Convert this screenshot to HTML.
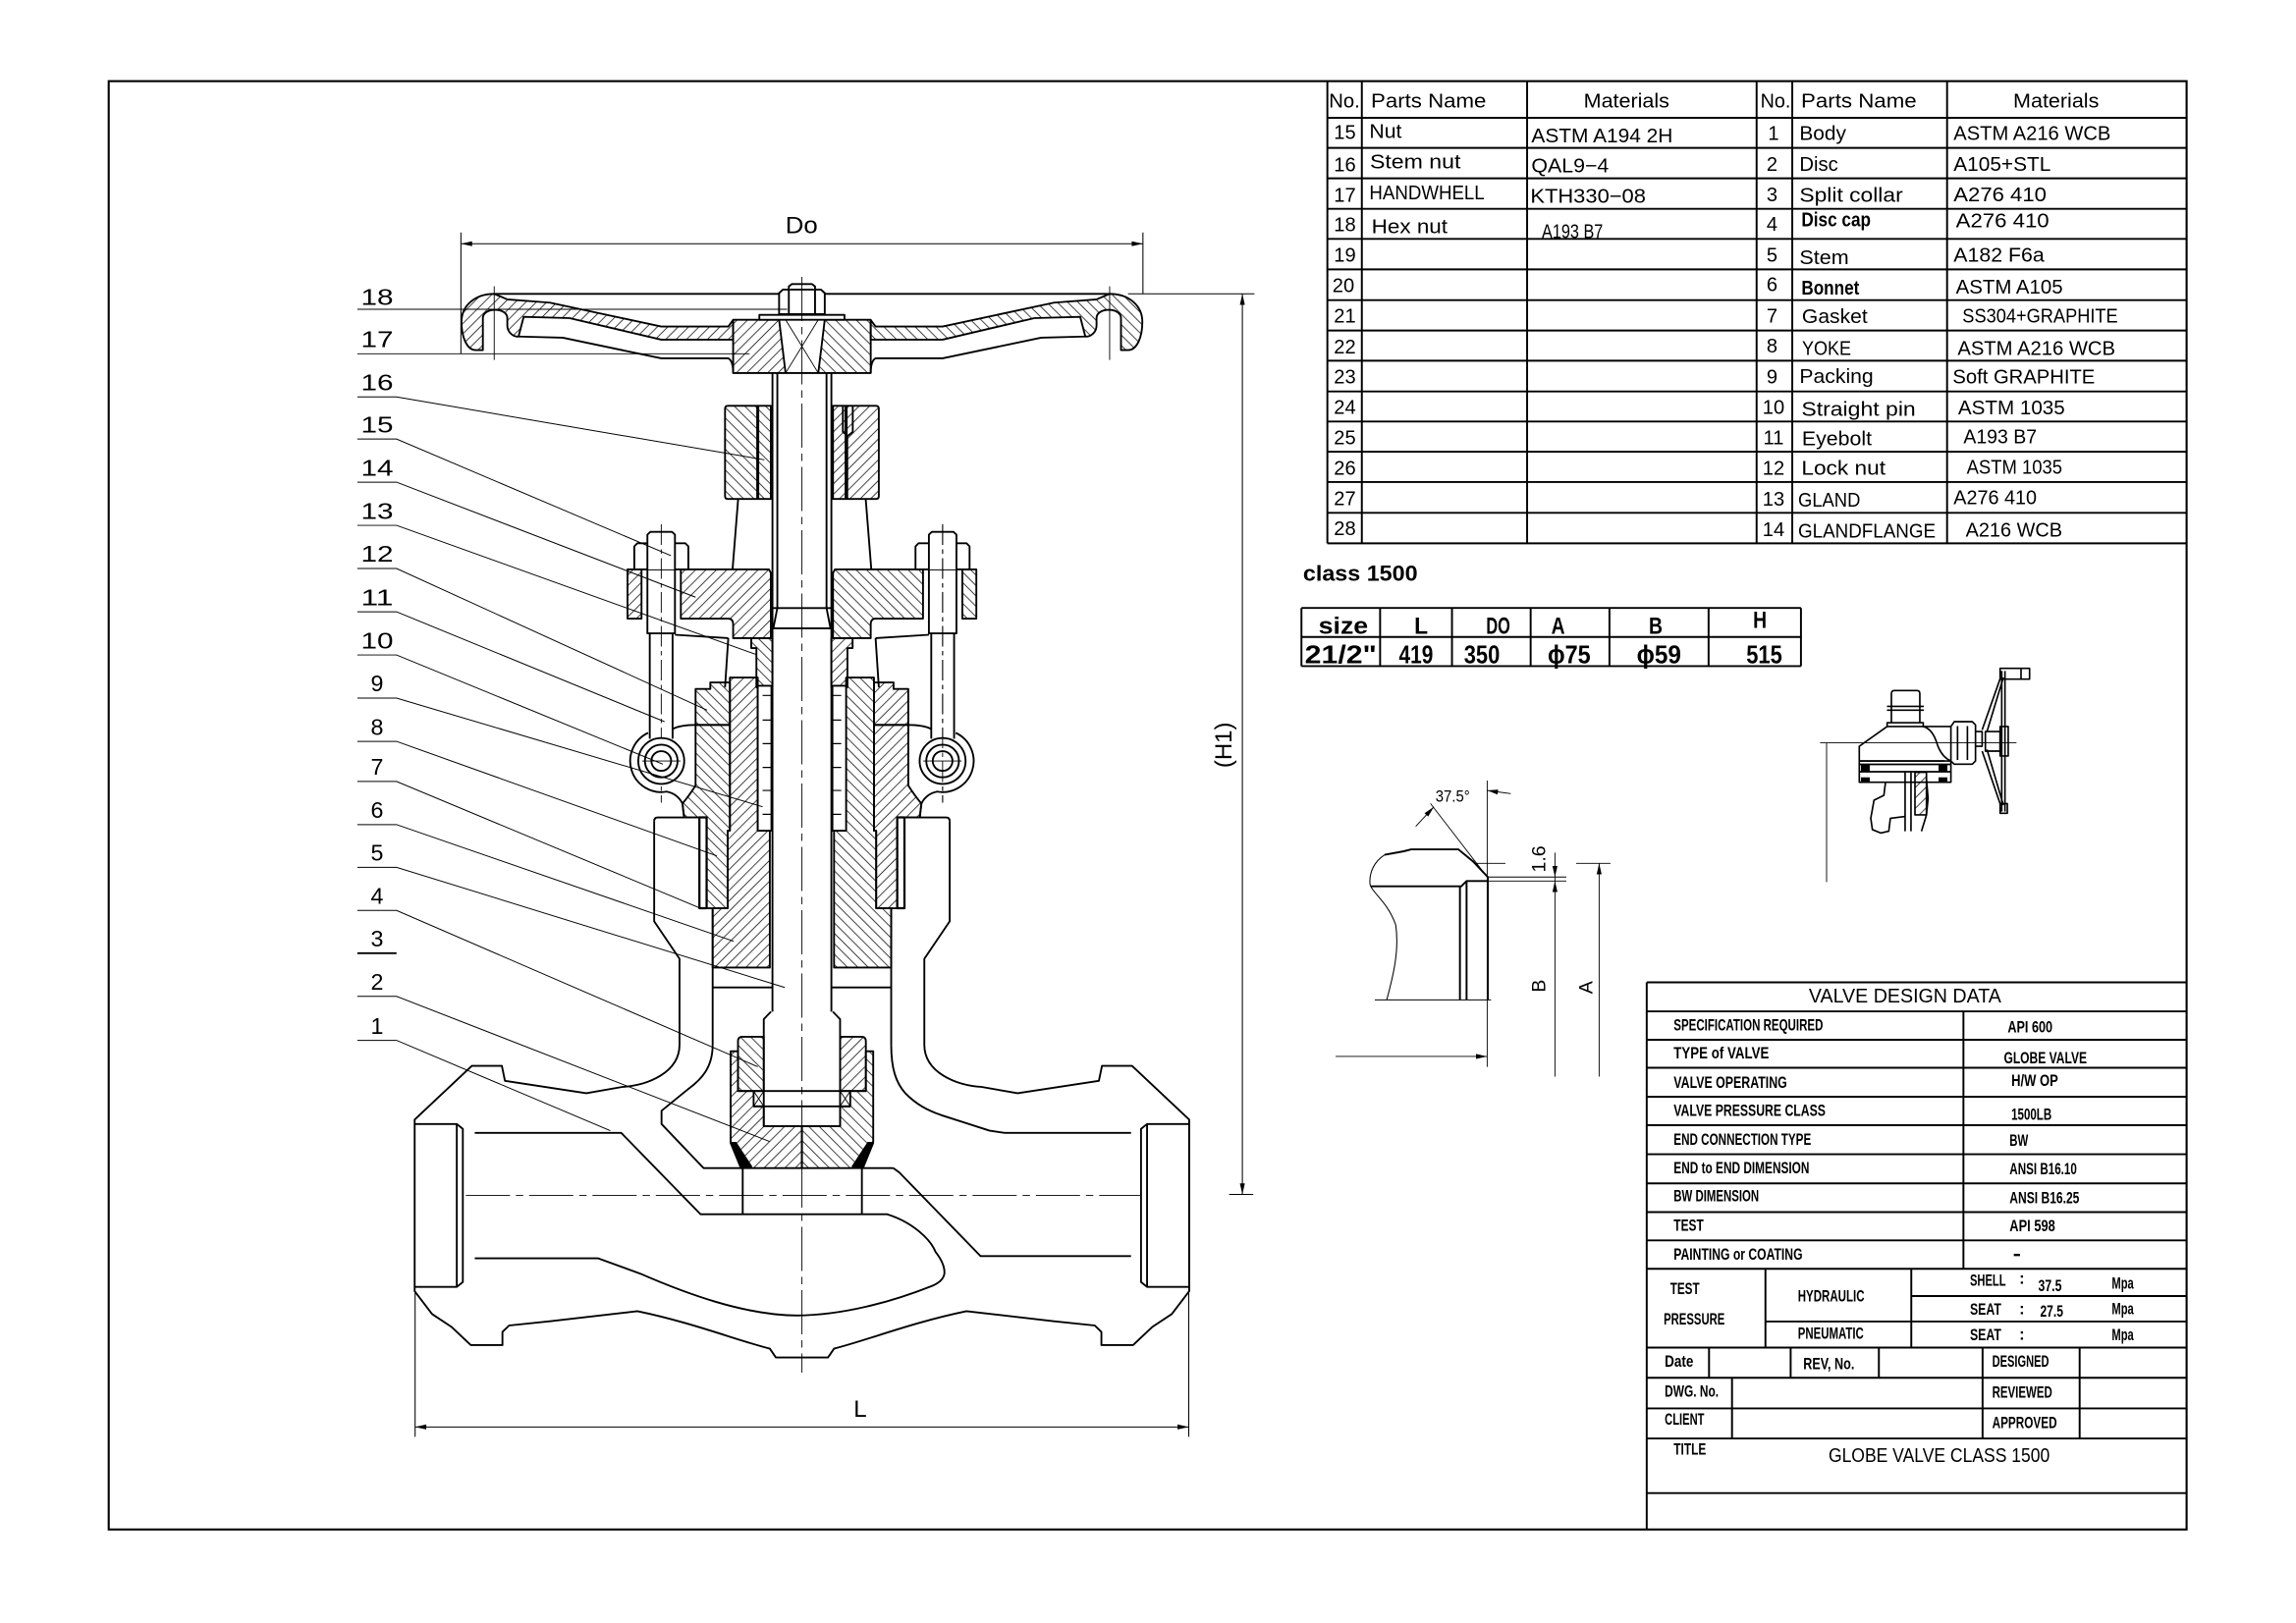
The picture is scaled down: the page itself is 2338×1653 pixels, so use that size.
<!DOCTYPE html>
<html><head><meta charset="utf-8">
<style>
html,body{margin:0;padding:0;background:#fff;width:2338px;height:1653px;overflow:hidden}
svg{display:block}
text{font-family:"Liberation Sans",Arial,sans-serif;fill:#000}
.pt{font-size:13.4px}
.tb{font-size:11px;font-weight:bold}
.ct{font-size:16px;font-weight:bold}
.ld{font-size:15.5px}
</style></head><body>
<svg xmlns="http://www.w3.org/2000/svg" width="2338" height="1653" viewBox="0 0 1558.667 1102">
<defs>
<pattern id="hA" width="5" height="5" patternUnits="userSpaceOnUse" patternTransform="rotate(45)"><line x1="2.5" y1="0" x2="2.5" y2="5" stroke="#000" stroke-width="0.5"/></pattern>
<pattern id="hB" width="5" height="5" patternUnits="userSpaceOnUse" patternTransform="rotate(-45)"><line x1="2.5" y1="0" x2="2.5" y2="5" stroke="#000" stroke-width="0.5"/></pattern>
</defs>
<rect x="0" y="0" width="1558.667" height="1102" fill="#fff"/>

<!-- FRAME -->
<rect x="73.8" y="55.1" width="1410.6" height="983.4" fill="none" stroke="#000" stroke-width="1.4"/>

<!-- ============ VALVE HALF (mirrored) ============ -->
<g id="half" fill="none" stroke="#000" stroke-width="1.25" stroke-linejoin="round">
 <!-- handwheel -->
 <path fill="url(#hA)" d="M335.5,199.5 C322,199.5 313.3,208 313.3,218.5 C313.3,229 317,237.7 323,237.7 L327.8,237.7 L327.8,216 C327.8,208.5 344.4,208.5 344.4,216 L344.4,221 C344.4,226 349,229 352,228.5 L355.5,215.1 L386.6,216 L448.9,230.6 L497.7,230.6 L497.7,217.3 L494.4,221.7 L448.9,221.7 L373.3,205.5 L344.4,203.3 Z"/>
 <path d="M352,228.5 L382,229.3 L448.9,243.3 L494.4,243.3 Q497.7,245 497.7,253.3"/>
 <path d="M335.5,199.5 L544.4,199.5"/>
 <path stroke-width="0.6" d="M335.5,194.4 L335.5,244.4"/>
 <path fill="url(#hA)" d="M497.7,217.1 L528.9,217.1 L533.3,253.3 L497.7,253.3 Z"/>
 <path fill="#fff" d="M544.4,213.8 L515.5,213.8 L515.5,217.1 L544.4,217.1"/>
 <path fill="#fff" d="M544.4,196.6 L531.5,196.6 L528.9,199 L528.9,213.3 L544.4,213.3"/>
 <path fill="#fff" d="M544.4,192.9 L537.5,192.9 L535.5,194.5 L535.5,196.6"/>
 <path d="M535.5,196.6 L535.5,213.3"/>
 <!-- stem nut -->
 <path fill="url(#hB)" d="M492.2,277.5 Q492.2,275.5 494.2,275.5 L523.3,275.5 L523.3,338.8 L494.2,338.8 Q492.2,338.8 492.2,336.8 Z"/>
 <path stroke-width="2" d="M514.4,275.5 L514.4,338.8"/>
 <path d="M501.1,338.8 L497.3,386.6"/>
 <!-- flange -->
 <path fill="url(#hA)" d="M426,386.6 L435.5,386.6 L435.5,420 L426,420 Z"/>
 <path fill="url(#hA)" d="M462.2,386.6 L522,386.6 L523.3,389 L523.3,433.3 L497.7,433.3 L497.7,424 Q497.7,420 494.4,420 L462.2,420 Z"/>
 <path d="M458.2,431 L494.4,433.3"/>
 <!-- stud + nut -->
 <path fill="#fff" d="M430.6,386.6 L430.6,371 L432.6,368.9 L465.3,368.9 L467.3,371 L467.3,386.6 Z"/>
 <path fill="#fff" d="M439.5,386.6 L439.5,363 L441.5,361.1 L456.2,361.1 L458.2,363 L458.2,386.6"/>
 <path d="M439.5,386.6 L439.5,430 L458.2,430 L458.2,386.6 M441.1,430 L441.1,501.6 M456.6,430 L456.6,501.6"/>
 <path stroke-width="0.6" stroke-dasharray="14 3 3 3" d="M448.9,356 L448.9,545"/>
 <!-- gland -->
 <path fill="url(#hB)" d="M510,433.3 L524.4,433.3 L524.4,466.7 L513.5,466.7 L513.5,440 L510,440 Z"/>
 <path d="M494.4,433.3 L492.2,466.7"/>
 <!-- lock nut -->
 <path fill="url(#hB)" d="M472.2,467.8 L482.2,467.8 L482.2,463.4 L495.5,463.4 L495.5,492.2 L472.2,492.2 Z"/>
 <!-- bonnet inner -->
 <path fill="url(#hA)" d="M495.5,460 L514.4,460 L514.4,564 L522.6,564 L522.6,657 L483.8,657 L483.8,616.7 L494,616.7 L494,564 L495.5,564 Z"/>
 <!-- bonnet outer -->
 <path fill="url(#hB)" d="M472.2,492.2 L495.5,492.2 L495.5,564 L494,564 L494,616.7 L479.7,616.7 L479.7,555 L464.4,555 L463.3,545.6 Q468,540 472.2,533.3 Z"/>
 <!-- packing -->
 <path fill="#fff" d="M514.4,465.6 L523.7,465.6 L523.7,564 L514.4,564 Z"/>
 <path stroke-width="0.8" d="M517.7,472.2 L523.7,472.2 M517.7,488.9 L523.7,488.9 M517.7,504.9 L523.7,504.9 M517.7,521.1 L523.7,521.1 M517.7,536.7 L523.7,536.7 M517.7,552.9 L523.7,552.9"/>
 <!-- gasket -->
 <path fill="#fff" stroke-width="1.5" d="M474.8,555 L479.7,555 L479.7,616.7 L474.8,616.7 Z"/>
 <!-- eye -->
 <path d="M440,497.6 A21.1,21.1 0 0 0 452.6,537.5 Q460,539 463.3,545.6 L464.4,555"/>
 <path d="M456.6,495 Q462,492.2 472.2,492.2"/>
 <circle cx="448.9" cy="516.7" r="15.6" fill="#fff"/>
 <circle cx="448.9" cy="516.7" r="11.1"/>
 <circle cx="448.9" cy="516.7" r="6.7"/>
 <path stroke-width="0.6" d="M436,516.7 L462,516.7"/>
 <!-- body outer -->
 <path d="M444.1,557.5 Q444.1,555 446.6,555 L474.8,555"/>
 <path d="M444.1,557.5 L444.1,625.6 L461.3,651 L461.3,709.4 C461.3,728 440,737 422.5,738 L398,742.3 L342.8,733.9 L340.7,723.7 L320.3,723.7 L281.5,760.2 L281.5,876.7 L293.3,892.2 L306.7,901.1 L319.6,913.3 L341.1,913.3 L341.1,904.4 L345.6,900 L373.3,897.1 L432.7,890.3 C470,898 500,910 522.6,915.7 L526.7,921.7 L544.4,921.7"/>
 <path d="M281.5,763.2 L310.1,763.2 L314.2,766.5 L314.2,870.5 L310.1,873.8 L281.5,873.8 M310.1,763.2 L310.1,873.8"/>
 <path d="M483.8,616.7 L483.8,709.4"/>
 <path d="M483.8,670.5 L524.4,670.5"/>
 <!-- disc -->
 <path d="M523.4,686.9 L518.5,692 L518.5,764.7 L544.4,764.7"/>
 <path fill="url(#hA)" d="M496,713.8 L501,713.8 L501,740.8 L511.6,740.8 L511.6,751.2 L518.5,751.2 L518.5,764.7 L544.4,764.7 L544.4,793.1 L508.3,793.1 L496,775.1 Z"/>
 <path fill="url(#hB)" d="M501,740.8 L501,707 Q501,704 504,704 L518.5,704 L518.5,740.8 Z"/>
 <path d="M511.6,740.8 L544.4,740.8 M511.6,751.2 L544.4,751.2"/>
 <path stroke-width="0.6" d="M511.6,740.8 L518.5,751.2 M518.5,740.8 L511.6,751.2"/>
 <path fill="#000" d="M496,776 L499.5,776 L510,792 L508.3,793.1 L503,793.1 Z"/>
</g>
<use href="#half" transform="matrix(-1 0 0 1 1088.8 0)"/>

<!-- ============ VALVE CENTER / ASYMMETRIC ============ -->
<g fill="none" stroke="#000" stroke-width="1.25" stroke-linejoin="round">
 <path d="M524.4,253.3 L524.4,686.9 M564.4,253.3 L564.4,686.9"/>
 <path d="M527.7,253.3 L527.7,412.9 M561.1,253.3 L561.1,412.9 M524.4,412.9 L564.4,412.9 M524.4,426.6 L564.4,426.6 M527.7,412.9 L525,426.6 M561.1,412.9 L563.8,426.6"/>
 <path d="M533.3,253.3 L555.5,253.3"/>
 <path stroke-width="0.6" d="M533.3,217.1 L555.5,253.3 M555.5,217.1 L533.3,253.3"/>
 <path d="M572.2,275.5 L572.2,293.3 L575.5,296 L578.9,293.3 L578.9,275.5"/>
 <path stroke-width="0.6" d="M575.5,296 L575.5,338.8"/>
 <path d="M322.3,769.2 L421.7,769.2 L475.6,824.5 L602.3,824.5 C620,830 632,842 635,849.9 C639,855 641.5,860 641.1,864.8 C640.5,869 636,872 630.9,873.8 C605,884 572,893 541,893.2 C505,893 465,878 434.7,864.8 L406.1,854.4 L322.3,854.4"/>
 <path d="M606.4,793.1 L610.5,796.1 L665.7,852.9 L767.8,852.9"/>
 <path d="M682,769.2 L767.8,769.2"/>
 <path d="M605,709.4 C605,725 608,735 614.6,742.3 C622,750 630,754 639.1,757.2 L671.8,767.7 L682,769.2"/>
 <path d="M483.8,709.4 C483.8,725 476,733 467.4,739.3 L449.1,754.2 L449.1,763.2 L477.6,793.1 L504.2,793.1"/>
 <path d="M504.2,793.1 L504.2,824.5 M585.1,793.1 L585.1,824.5 M585.1,793.1 L606.4,793.1"/>
 <!-- center lines -->
 <path stroke-width="0.6" stroke-dasharray="30 4 5 4" d="M544.4,188 L544.4,932"/>
 <path stroke-width="0.6" stroke-dasharray="30 4 5 4" d="M316.2,811.6 L773.9,811.6"/>
 <path stroke-width="0.6" stroke-dasharray="14 3 3 3" d="M639.9,356 L639.9,545"/>
</g>

<!-- ============ DIMENSIONS ============ -->
<g fill="none" stroke="#000" stroke-width="0.7">
 <path d="M312.9,165.5 L775.9,165.5 M312.9,157.8 L312.9,240 M775.9,157.8 L775.9,199.5"/>
 <path d="M843.4,199.5 L843.4,811 M765.8,199.5 L851.6,199.5 M834.4,811 L850.8,811"/>
 <path d="M281.8,968.9 L807,968.9 M281.8,878 L281.8,975.6 M807,878 L807,975.6"/>
</g>
<g fill="#000">
 <polygon points="312.9,165.5 320.5,163.8 320.5,167.2"/>
 <polygon points="775.9,165.5 768.3,163.8 768.3,167.2"/>
 <polygon points="843.4,199.5 841.7,207 845.1,207"/>
 <polygon points="843.4,811 841.7,803.5 845.1,803.5"/>
 <polygon points="281.8,968.9 289.4,967.2 289.4,970.6"/>
 <polygon points="807,968.9 799.4,967.2 799.4,970.6"/>
</g>
<text x="544.2" y="158.2" font-size="16" text-anchor="middle" textLength="22" lengthAdjust="spacingAndGlyphs">Do</text>
<text x="584" y="962" font-size="16" text-anchor="middle">L</text>
<text transform="translate(836,505.9) rotate(-90)" font-size="16" text-anchor="middle">(H1)</text>

<!-- ============ LEADERS ============ -->
<g fill="none" stroke="#000" stroke-width="0.65">
 <path d="M242.6,210 L534.4,210"/>
 <path d="M242.6,240.2 L508.9,240.2"/>
 <path d="M242.6,269.5 L269.2,269.5 L518.9,312.2"/>
 <path d="M242.6,298.1 L269.2,298.1 L455.5,377.3"/>
 <path d="M242.6,327.4 L269.2,327.4 L472.2,405.5"/>
 <path d="M242.6,356.7 L269.2,356.7 L513.3,444.4"/>
 <path d="M242.6,386 L269.2,386 L480,482.2"/>
 <path d="M242.6,415.4 L269.2,415.4 L451.1,490"/>
 <path d="M242.6,444.7 L269.2,444.7 L450,518.9"/>
 <path d="M242.6,474 L269.2,474 L517.7,547.8"/>
 <path d="M242.6,503.4 L269.2,503.4 L486.6,581.1"/>
 <path d="M242.6,530.6 L269.2,530.6 L475.6,616.7"/>
 <path d="M242.6,559.9 L269.2,559.9 L498.1,639.1"/>
 <path d="M242.6,588.9 L269.2,588.9 L532.8,670.5"/>
 <path d="M242.6,618.2 L269.2,618.2 L514.4,724.3"/>
 <path stroke-width="1.2" d="M242.6,647.2 L269.2,647.2"/>
 <path d="M242.6,676.5 L269.2,676.5 L522.6,775.1"/>
 <path d="M242.6,706.4 L269.2,706.4 L414.3,767.7"/>
</g>
<g class="ld" text-anchor="middle">
 <text x="256" y="207" textLength="22" lengthAdjust="spacingAndGlyphs">18</text>
 <text x="256" y="235.6" textLength="22" lengthAdjust="spacingAndGlyphs">17</text>
 <text x="256" y="264.9" textLength="22" lengthAdjust="spacingAndGlyphs">16</text>
 <text x="256" y="293.6" textLength="22" lengthAdjust="spacingAndGlyphs">15</text>
 <text x="256" y="322.9" textLength="22" lengthAdjust="spacingAndGlyphs">14</text>
 <text x="256" y="352.2" textLength="22" lengthAdjust="spacingAndGlyphs">13</text>
 <text x="256" y="381.5" textLength="22" lengthAdjust="spacingAndGlyphs">12</text>
 <text x="256" y="410.9" textLength="22" lengthAdjust="spacingAndGlyphs">11</text>
 <text x="256" y="440.2" textLength="22" lengthAdjust="spacingAndGlyphs">10</text>
 <text x="256" y="469.5">9</text>
 <text x="256" y="498.9">8</text>
 <text x="256" y="526.1">7</text>
 <text x="256" y="555.4">6</text>
 <text x="256" y="584.4">5</text>
 <text x="256" y="613.7">4</text>
 <text x="256" y="642.7">3</text>
 <text x="256" y="672">2</text>
 <text x="256" y="701.9">1</text>
</g>

<!-- ============ PARTS TABLE ============ -->
<g fill="none" stroke="#000" stroke-width="1.3">
 <path d="M901.1,55.1 L901.1,368.9 M924.5,55.1 L924.5,368.9 M1036.7,55.1 L1036.7,368.9 M1192.5,55.1 L1192.5,368.9 M1216.7,55.1 L1216.7,368.9 M1321.8,55.1 L1321.8,368.9"/>
 <path d="M901.1,80 H1484.4 M901.1,100.4 H1484.4 M901.1,121.1 H1484.4 M901.1,141.8 H1484.4 M901.1,162.2 H1484.4 M901.1,182.9 H1484.4 M901.1,203.8 H1484.4 M901.1,224.4 H1484.4 M901.1,244.9 H1484.4 M901.1,265.8 H1484.4 M901.1,286.2 H1484.4 M901.1,306.7 H1484.4 M901.1,327.3 H1484.4 M901.1,348.2 H1484.4 M901.1,368.9 H1484.4"/>
</g>
<g class="pt">
 <text x="902.2" y="72.9" textLength="21" lengthAdjust="spacingAndGlyphs">No.</text>
 <text x="930.7" y="72.9" textLength="78.2" lengthAdjust="spacingAndGlyphs">Parts Name</text>
 <text x="1075.1" y="72.9" textLength="58.2" lengthAdjust="spacingAndGlyphs">Materials</text>
 <text x="1195.1" y="72.9" textLength="20.5" lengthAdjust="spacingAndGlyphs">No.</text>
 <text x="1222.7" y="72.9" textLength="78.4" lengthAdjust="spacingAndGlyphs">Parts Name</text>
 <text x="1366.7" y="72.9" textLength="58.2" lengthAdjust="spacingAndGlyphs">Materials</text>
</g>
<g class="pt" text-anchor="middle">
 <text x="913" y="94.4">15</text><text x="913" y="116.2">16</text><text x="913" y="137.1">17</text><text x="913" y="157.1">18</text>
 <text x="913" y="177.8">19</text><text x="912" y="198.2">20</text><text x="913" y="218.9">21</text><text x="913" y="240">22</text>
 <text x="913" y="260.4">23</text><text x="913" y="281.1">24</text><text x="913" y="301.8">25</text><text x="913" y="322.2">26</text>
 <text x="913" y="342.9">27</text><text x="913" y="363.3">28</text>
 <text x="1204" y="95.1">1</text><text x="1203" y="116">2</text><text x="1203" y="136.7">3</text><text x="1203" y="156.7">4</text>
 <text x="1203" y="177.8">5</text><text x="1203" y="197.8">6</text><text x="1203" y="218.9">7</text><text x="1203" y="239.5">8</text>
 <text x="1203" y="260.4">9</text><text x="1204" y="281.1">10</text><text x="1204" y="301.8">11</text><text x="1204" y="322.2">12</text>
 <text x="1204" y="343.3">13</text><text x="1204" y="364">14</text>
</g>
<g class="pt">
 <text x="929.6" y="93.8" textLength="22" lengthAdjust="spacingAndGlyphs">Nut</text>
 <text x="1039.6" y="96.7" textLength="96" lengthAdjust="spacingAndGlyphs">ASTM A194 2H</text>
 <text x="930" y="114.4" textLength="61.6" lengthAdjust="spacingAndGlyphs">Stem nut</text>
 <text x="1039.6" y="117.1" textLength="52.6" lengthAdjust="spacingAndGlyphs">QAL9−4</text>
 <text x="929.6" y="135.5" textLength="78.2" lengthAdjust="spacingAndGlyphs">HANDWHELL</text>
 <text x="1038.9" y="137.8" textLength="78.4" lengthAdjust="spacingAndGlyphs">KTH330−08</text>
 <text x="931.1" y="158.4" textLength="51.6" lengthAdjust="spacingAndGlyphs">Hex nut</text>
 <text x="1046.7" y="161.8" textLength="41.5" lengthAdjust="spacingAndGlyphs">A193 B7</text>

 <text x="1221.6" y="95.1" textLength="31.7" lengthAdjust="spacingAndGlyphs">Body</text>
 <text x="1326.2" y="95.1" textLength="106.7" lengthAdjust="spacingAndGlyphs">ASTM A216 WCB</text>
 <text x="1221.6" y="116" textLength="26.2" lengthAdjust="spacingAndGlyphs">Disc</text>
 <text x="1326.2" y="116" textLength="66" lengthAdjust="spacingAndGlyphs">A105+STL</text>
 <text x="1221.6" y="137.1" textLength="70.2" lengthAdjust="spacingAndGlyphs">Split collar</text>
 <text x="1326.2" y="136.7" textLength="63.1" lengthAdjust="spacingAndGlyphs">A276 410</text>
 <text x="1222.9" y="153.8" font-weight="bold" textLength="47.1" lengthAdjust="spacingAndGlyphs">Disc cap</text>
 <text x="1327.8" y="154.4" textLength="63.3" lengthAdjust="spacingAndGlyphs">A276 410</text>
 <text x="1221.6" y="179.3" textLength="33.5" lengthAdjust="spacingAndGlyphs">Stem</text>
 <text x="1326.2" y="177.8" textLength="61.6" lengthAdjust="spacingAndGlyphs">A182 F6a</text>
 <text x="1222.9" y="200" font-weight="bold" textLength="39.3" lengthAdjust="spacingAndGlyphs">Bonnet</text>
 <text x="1327.8" y="199.5" textLength="72.6" lengthAdjust="spacingAndGlyphs">ASTM A105</text>
 <text x="1223.3" y="219.3" textLength="44.5" lengthAdjust="spacingAndGlyphs">Gasket</text>
 <text x="1332.2" y="218.9" textLength="105.6" lengthAdjust="spacingAndGlyphs">SS304+GRAPHITE</text>
 <text x="1223.3" y="241.1" textLength="33.4" lengthAdjust="spacingAndGlyphs">YOKE</text>
 <text x="1328.9" y="241.1" textLength="107.1" lengthAdjust="spacingAndGlyphs">ASTM A216 WCB</text>
 <text x="1221.6" y="260" textLength="50.2" lengthAdjust="spacingAndGlyphs">Packing</text>
 <text x="1325.6" y="260.4" textLength="96.6" lengthAdjust="spacingAndGlyphs">Soft GRAPHITE</text>
 <text x="1222.9" y="282.2" textLength="77.6" lengthAdjust="spacingAndGlyphs">Straight pin</text>
 <text x="1329.3" y="281.5" textLength="72.5" lengthAdjust="spacingAndGlyphs">ASTM 1035</text>
 <text x="1223.3" y="302.2" textLength="47.4" lengthAdjust="spacingAndGlyphs">Eyebolt</text>
 <text x="1332.9" y="301.1" textLength="49.8" lengthAdjust="spacingAndGlyphs">A193 B7</text>
 <text x="1222.9" y="322.2" textLength="57.1" lengthAdjust="spacingAndGlyphs">Lock nut</text>
 <text x="1335.1" y="321.8" textLength="64.9" lengthAdjust="spacingAndGlyphs">ASTM 1035</text>
 <text x="1220.7" y="344" textLength="42.2" lengthAdjust="spacingAndGlyphs">GLAND</text>
 <text x="1326.2" y="342.2" textLength="56.5" lengthAdjust="spacingAndGlyphs">A276 410</text>
 <text x="1220.7" y="364.9" textLength="93.3" lengthAdjust="spacingAndGlyphs">GLANDFLANGE</text>
 <text x="1334.4" y="364.4" textLength="65.6" lengthAdjust="spacingAndGlyphs">A216 WCB</text>
</g>

<!-- ============ CLASS TABLE ============ -->
<text x="884.6" y="394.2" font-size="14.5" font-weight="bold" textLength="77.8" lengthAdjust="spacingAndGlyphs">class 1500</text>
<g fill="none" stroke="#000" stroke-width="1.3">
 <path d="M883.5,412.8 H1222.6 M883.5,432.5 H1222.6 M883.5,452.3 H1222.6"/>
 <path d="M883.5,412.8 V452.3 M936.9,412.8 V452.3 M985.7,412.8 V452.3 M1039.1,412.8 V452.3 M1092.6,412.8 V452.3 M1159.9,412.8 V452.3 M1222.6,412.8 V452.3"/>
</g>
<g class="ct">
 <text x="895.1" y="430.2" textLength="33.7" lengthAdjust="spacingAndGlyphs">size</text>
 <text x="960.1" y="430.2" textLength="9.3" lengthAdjust="spacingAndGlyphs">L</text>
 <text x="1008.9" y="430.2" textLength="16.3" lengthAdjust="spacingAndGlyphs">DO</text>
 <text x="1053.1" y="430.2" textLength="9.3" lengthAdjust="spacingAndGlyphs">A</text>
 <text x="1119.3" y="430.2" textLength="9.3" lengthAdjust="spacingAndGlyphs">B</text>
 <text x="1190.1" y="426.3" textLength="9.3" lengthAdjust="spacingAndGlyphs">H</text>
</g>
<g font-size="17" font-weight="bold">
 <text x="885.8" y="450.4" textLength="48.8" lengthAdjust="spacingAndGlyphs">21/2"</text>
 <text x="949.7" y="450.4" textLength="23.2" lengthAdjust="spacingAndGlyphs">419</text>
 <text x="993.8" y="450.4" textLength="24.4" lengthAdjust="spacingAndGlyphs">350</text>
 <text x="1050.7" y="450.4" textLength="29.1" lengthAdjust="spacingAndGlyphs">ϕ75</text>
 <text x="1111.1" y="450.4" textLength="30.2" lengthAdjust="spacingAndGlyphs">ϕ59</text>
 <text x="1185.5" y="450.4" textLength="24.4" lengthAdjust="spacingAndGlyphs">515</text>
</g>

<!-- ============ SEAT DETAIL ============ -->
<g fill="none" stroke="#000">
 <path stroke-width="1.3" d="M940,580.4 L953,578 L958,576.7 L990,576.7 L1000,584.9 L1010,595.5 L1010,678.9"/>
 <path stroke-width="0.7" d="M940,580.4 C933,585 929.5,592 930,600 C931,606 942,612 947.5,628 C950,645 946,662 941.4,678.9"/>
 <path stroke-width="0.7" d="M933.3,678.9 L1012.2,678.9"/>
 <path stroke-width="1.3" d="M930.8,601.8 L992,601.8 L995.6,598.2 L1010,598.2 M991.1,601.8 L991.1,678.9 M995.6,598.2 L995.6,678.9"/>
 <path stroke-width="0.6" d="M1009.6,530 L1009.6,724.4 M906.7,717.3 L1009.6,717.3 M971.1,545.6 L1009.6,595.5 M961.1,561.1 L973.4,547.8 M1009.6,536.7 L1025.6,538.9 M1002,586.2 L1022,586.2 M1010,595.5 L1063.3,595.5 M1010,598.2 L1063.3,598.2 M1070,586.2 L1093.3,586.2 M1055.6,578.9 L1055.6,731 M1085.6,586.2 L1085.6,731"/>
</g>
<g fill="#000">
 <polygon points="1009.6,717.3 1002,715.6 1002,719"/>
 <polygon points="973.4,547.8 969.55,554.45 967.05,552.15"/>
 <polygon points="1009.6,536.7 1017,536.1 1016.6,539.5"/>
 <polygon points="1055.6,595.5 1053.9,588 1057.3,588"/>
 <polygon points="1055.6,598.2 1053.9,605.7 1057.3,605.7"/>
 <polygon points="1085.6,586.2 1083.9,593.7 1087.3,593.7"/>
</g>
<text x="974.5" y="544.4" font-size="11" textLength="23.3" lengthAdjust="spacingAndGlyphs">37.5°</text>
<text transform="translate(1049,583.3) rotate(-90)" font-size="13" text-anchor="middle">1.6</text>
<text transform="translate(1049,669.4) rotate(-90)" font-size="13" text-anchor="middle">B</text>
<text transform="translate(1081,670.5) rotate(-90)" font-size="13" text-anchor="middle">A</text>

<!-- ============ ACTUATOR SKETCH ============ -->
<g fill="none" stroke="#000" stroke-width="1.1" stroke-linejoin="round">
 <path stroke-width="0.6" d="M1240,504.4 L1240,598.9 M1235.6,504.4 L1368.9,504.4"/>
 <path d="M1284,490.7 L1284,471 Q1284,468.9 1286,468.9 L1301.3,468.9 Q1303.3,468.9 1303.3,471 L1303.3,490.7 M1281,479.6 L1306,479.6 M1281,482.2 L1306,482.2"/>
 <path d="M1281.1,490.7 L1305.6,490.7 L1305.6,493.3 L1281.1,493.3 Z"/>
 <path d="M1281.1,493.3 L1262.2,506.7 L1262.2,516.7 L1320,516.7 M1305.6,493.3 L1324.4,493.3 M1305.6,493.3 Q1312,495 1315,505 Q1318,514 1324.4,516.7"/>
 <path d="M1262.2,516.7 L1324.4,516.7 L1324.4,531.1 L1262.2,531.1 Z M1262.2,519 L1324.4,519 M1262.2,524 L1324.4,524"/>
 <path d="M1280,531.1 L1278.9,540 L1272.2,543.3 L1270,555.6 L1271.1,563.3 L1276.7,565.6 L1282.2,564.4 L1283.3,555.6 L1293.3,554.4"/>
 <path d="M1293.3,524.4 L1293.3,564.4 M1297.3,524.4 L1297.3,564.4"/>
 <path fill="url(#hA)" d="M1300,524.4 L1307.8,524.4 L1307.8,553.3 L1300,553.3 Z"/>
 <path d="M1307.8,528.9 L1308.9,542.2 L1307.8,553.3 L1304.4,564.4"/>
 <path d="M1324.4,493.3 L1326.7,490 L1338.9,490 L1341.1,492.2 L1341.1,516.7 L1338.9,518.9 L1326.7,518.9 L1324.4,516.7 Z M1328.9,493 L1328.9,516 M1335.6,493 L1335.6,516"/>
 <path d="M1341.1,496.7 L1345.6,496.7 L1345.6,506.7 L1341.1,506.7"/>
 <path d="M1347.8,496.7 L1357.8,496.7 L1357.8,510 L1347.8,510 Z"/>
 <path d="M1357.8,493.3 L1363.3,493.3 L1363.3,513.3 L1357.8,513.3 Z"/>
 <path d="M1358.9,455.6 L1358.9,551.1 M1361.1,455.6 L1361.1,551.1"/>
 <path d="M1358.9,457.8 L1345.6,495.6 M1360,460 L1348.9,496.7 M1345.6,510 L1358.9,548.9 M1348.9,508.9 L1360,546.7"/>
 <path d="M1357.8,453.8 L1377.8,453.8 L1377.8,461.1 L1357.8,461.1 Z M1372,453.8 L1372,461.1"/>
 <path d="M1357.8,545.6 L1362.7,545.6 L1362.7,552.2 L1357.8,552.2 Z"/>
</g>
<g fill="#000">
 <rect x="1263.3" y="519" width="6" height="5"/>
 <rect x="1263.3" y="527.8" width="6" height="3.3"/>
 <rect x="1316" y="519" width="6" height="5"/>
 <rect x="1316" y="527.8" width="6" height="3.3"/>
</g>

<!-- ============ TITLE BLOCK ============ -->
<g fill="none" stroke="#000" stroke-width="1.3">
 <path d="M1117.9,667 L1117.9,1038.5"/>
 <path d="M1117.9,667 H1484.4 M1117.9,686.7 H1484.4 M1117.9,706 H1484.4 M1117.9,725 H1484.4 M1117.9,744.7 H1484.4 M1117.9,764 H1484.4 M1117.9,783.7 H1484.4 M1117.9,803.5 H1484.4 M1117.9,823 H1484.4 M1117.9,842.2 H1484.4 M1117.9,861.5 H1484.4 M1297.5,880 H1484.4 M1198.5,897.3 H1484.4 M1117.9,915 H1484.4 M1117.9,935.5 H1484.4 M1117.9,956.3 H1484.4 M1117.9,976.7 H1484.4 M1117.9,1013.8 H1484.4"/>
 <path d="M1332.9,686.7 V861.5 M1198.5,861.5 V915 M1297.5,861.5 V915 M1160.2,915 V935.5 M1215.6,915 V935.5 M1275.5,915 V935.5 M1345.9,915 V976.7 M1411.8,915 V976.7 M1175.8,935.5 V976.7"/>
 <path stroke-width="1.6" d="M1367.1,852.1 L1371.3,852.1"/>
</g>
<text x="1227.9" y="680.6" font-size="13.8" textLength="130.7" lengthAdjust="spacingAndGlyphs">VALVE DESIGN DATA</text>
<g class="tb">
 <text x="1136.2" y="699.8" textLength="101.4" lengthAdjust="spacingAndGlyphs">SPECIFICATION REQUIRED</text>
 <text x="1136.2" y="718.8" textLength="64.7" lengthAdjust="spacingAndGlyphs">TYPE of VALVE</text>
 <text x="1136.2" y="738.6" textLength="77" lengthAdjust="spacingAndGlyphs">VALVE OPERATING</text>
 <text x="1136.2" y="757.6" textLength="103.1" lengthAdjust="spacingAndGlyphs">VALVE PRESSURE CLASS</text>
 <text x="1136.2" y="777.3" textLength="93.3" lengthAdjust="spacingAndGlyphs">END CONNECTION TYPE</text>
 <text x="1136.2" y="796.6" textLength="92.1" lengthAdjust="spacingAndGlyphs">END to END DIMENSION</text>
 <text x="1136.2" y="815.8" textLength="57.9" lengthAdjust="spacingAndGlyphs">BW DIMENSION</text>
 <text x="1136.2" y="835.6" textLength="20.3" lengthAdjust="spacingAndGlyphs">TEST</text>
 <text x="1136.2" y="855.3" textLength="87.5" lengthAdjust="spacingAndGlyphs">PAINTING or COATING</text>
 <text x="1362.9" y="701.1" textLength="30.5" lengthAdjust="spacingAndGlyphs">API 600</text>
 <text x="1360.3" y="722" textLength="56.4" lengthAdjust="spacingAndGlyphs">GLOBE VALVE</text>
 <text x="1365.4" y="737.3" textLength="31.8" lengthAdjust="spacingAndGlyphs">H/W OP</text>
 <text x="1365.4" y="760.3" textLength="27.4" lengthAdjust="spacingAndGlyphs">1500LB</text>
 <text x="1364.2" y="778.1" textLength="12.7" lengthAdjust="spacingAndGlyphs">BW</text>
 <text x="1364.2" y="797.3" textLength="45.7" lengthAdjust="spacingAndGlyphs">ANSI B16.10</text>
 <text x="1364.2" y="817" textLength="47.4" lengthAdjust="spacingAndGlyphs">ANSI B16.25</text>
 <text x="1364.2" y="836" textLength="31" lengthAdjust="spacingAndGlyphs">API 598</text>
 <text x="1133.8" y="878.8" textLength="20" lengthAdjust="spacingAndGlyphs">TEST</text>
 <text x="1129.4" y="899.5" textLength="41.5" lengthAdjust="spacingAndGlyphs">PRESSURE</text>
 <text x="1220.5" y="883.7" textLength="45.2" lengthAdjust="spacingAndGlyphs">HYDRAULIC</text>
 <text x="1220.5" y="908.9" textLength="44.7" lengthAdjust="spacingAndGlyphs">PNEUMATIC</text>
 <text x="1337.3" y="873.1" textLength="24.4" lengthAdjust="spacingAndGlyphs">SHELL</text>
 <text x="1370.8" y="871.8">:</text>
 <text x="1383.7" y="876.8" textLength="15.9" lengthAdjust="spacingAndGlyphs">37.5</text>
 <text x="1433.6" y="875.1" textLength="14.9" lengthAdjust="spacingAndGlyphs">Mpa</text>
 <text x="1337.3" y="892.8" textLength="21.3" lengthAdjust="spacingAndGlyphs">SEAT</text>
 <text x="1370.8" y="892.3">:</text>
 <text x="1385" y="894" textLength="15.6" lengthAdjust="spacingAndGlyphs">27.5</text>
 <text x="1433.6" y="892.3" textLength="14.9" lengthAdjust="spacingAndGlyphs">Mpa</text>
 <text x="1337.3" y="910.1" textLength="21.3" lengthAdjust="spacingAndGlyphs">SEAT</text>
 <text x="1370.8" y="909.6">:</text>
 <text x="1433.6" y="910.1" textLength="14.9" lengthAdjust="spacingAndGlyphs">Mpa</text>
 <text x="1130.1" y="928.1" textLength="19.5" lengthAdjust="spacingAndGlyphs">Date</text>
 <text x="1224.2" y="929.8" textLength="34.7" lengthAdjust="spacingAndGlyphs">REV, No.</text>
 <text x="1352.4" y="928.1" textLength="38.6" lengthAdjust="spacingAndGlyphs">DESIGNED</text>
 <text x="1130.1" y="948.4" textLength="36.6" lengthAdjust="spacingAndGlyphs">DWG. No.</text>
 <text x="1352.4" y="949.1" textLength="40.8" lengthAdjust="spacingAndGlyphs">REVIEWED</text>
 <text x="1130.1" y="967.4" textLength="26.9" lengthAdjust="spacingAndGlyphs">CLIENT</text>
 <text x="1352.4" y="969.8" textLength="44" lengthAdjust="spacingAndGlyphs">APPROVED</text>
 <text x="1136.2" y="987.8" textLength="22" lengthAdjust="spacingAndGlyphs">TITLE</text>
</g>
<text x="1241.3" y="992.8" font-size="13.8" textLength="150.2" lengthAdjust="spacingAndGlyphs">GLOBE  VALVE CLASS 1500</text>

</svg>
</body></html>
